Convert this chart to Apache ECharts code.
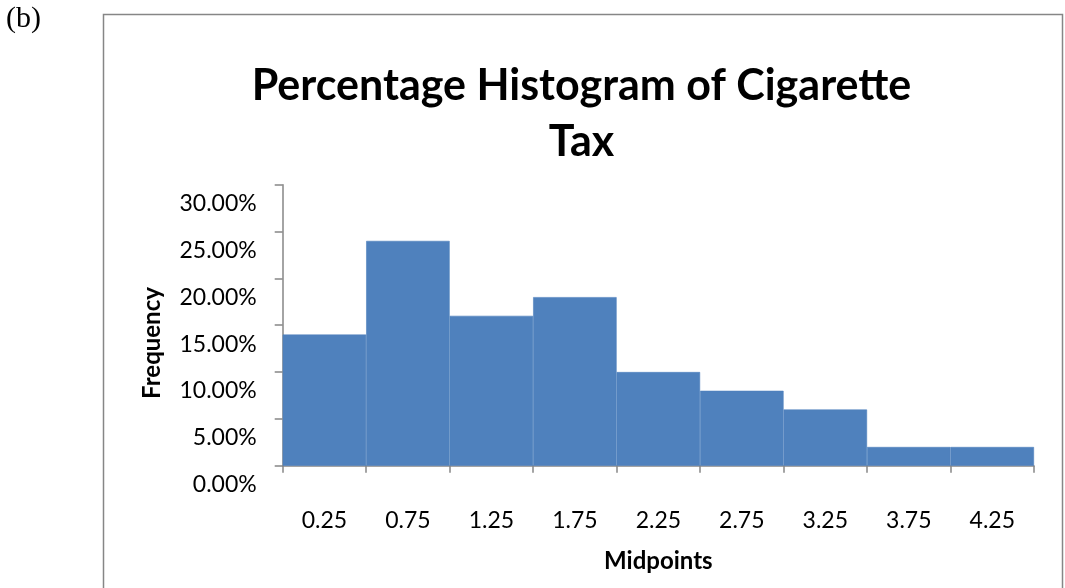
<!DOCTYPE html>
<html>
<head>
<meta charset="utf-8">
<script src="https://cdn.jsdelivr.net/npm/echarts@6/dist/echarts.min.js"></script>
<style>
html,body{margin:0;padding:0;background:#fff;}
#c{width:1065px;height:588px;}
</style>
</head>
<body>
<div id="c"></div>
<script>
const categories = ['0.25', '0.75', '1.25', '1.75', '2.25', '2.75', '3.25', '3.75', '4.25'];
const percentages = [14, 24, 16, 18, 10, 8, 6, 2, 2];
const yMin = 0, yMax = 30, yStep = 5;
const titleText = 'Percentage Histogram of Cigarette\nTax';
const xName = 'Midpoints';
const yName = 'Frequency';
const panelLabel = '(b)';

const FONT = 'Lato';
const AXIS = '#868686';
const BAR = '#4F81BD';

const chart = echarts.init(document.getElementById('c'), null, {renderer: 'canvas'});
chart.setOption({
  animation: false,
  backgroundColor: '#fff',
  title: {
    text: titleText,
    left: 581.5,
    top: 58,
    padding: 0,
    textAlign: 'center',
    textStyle: {fontFamily: FONT, fontWeight: 'bold', fontSize: 43, lineHeight: 56, color: '#000'}
  },
  graphic: [
    {type: 'rect', shape: {x: 103.5, y: 14.5, width: 959, height: 620}, style: {fill: 'none', stroke: AXIS, lineWidth: 1.5}, silent: true},
    {type: 'text', x: 6, y: 4, style: {text: panelLabel, font: '30px "Liberation Serif"', fill: '#000'}, silent: true},
    {type: 'text', x: 152, y: 343, rotation: Math.PI / 2, style: {text: yName, font: 'bold 24px Lato', fill: '#000', align: 'center', verticalAlign: 'middle'}, silent: true}
  ],
  grid: {left: 282.7, right: 31, top: 184.7, bottom: 122.3},
  xAxis: {
    type: 'category',
    data: categories,
    boundaryGap: true,
    name: xName,
    nameLocation: 'middle',
    nameGap: 84,
    nameTextStyle: {fontFamily: FONT, fontWeight: 'bold', fontSize: 24, color: '#000'},
    axisLine: {lineStyle: {color: AXIS, width: 1.5}},
    axisTick: {show: true, length: 7, lineStyle: {color: AXIS, width: 1.5}},
    axisLabel: {margin: 43, fontFamily: FONT, fontSize: 23, color: '#000'},
    splitLine: {show: false}
  },
  yAxis: {
    type: 'value',
    min: yMin, max: yMax, interval: yStep,
    axisLine: {show: true, lineStyle: {color: AXIS, width: 1.5}},
    axisTick: {show: true, length: 8, lineStyle: {color: AXIS, width: 1.5}},
    axisLabel: {margin: 26, fontFamily: FONT, fontSize: 23, color: '#000', verticalAlign: 'top', lineHeight: 38, formatter: v => v.toFixed(2) + '%'},
    splitLine: {show: false}
  },
  series: [{
    type: 'bar',
    data: percentages,
    barCategoryGap: '0%',
    barGap: '0%',
    itemStyle: {color: BAR, borderColor: BAR, borderWidth: 0.6},
    silent: true
  }]
});
</script>
</body>
</html>
